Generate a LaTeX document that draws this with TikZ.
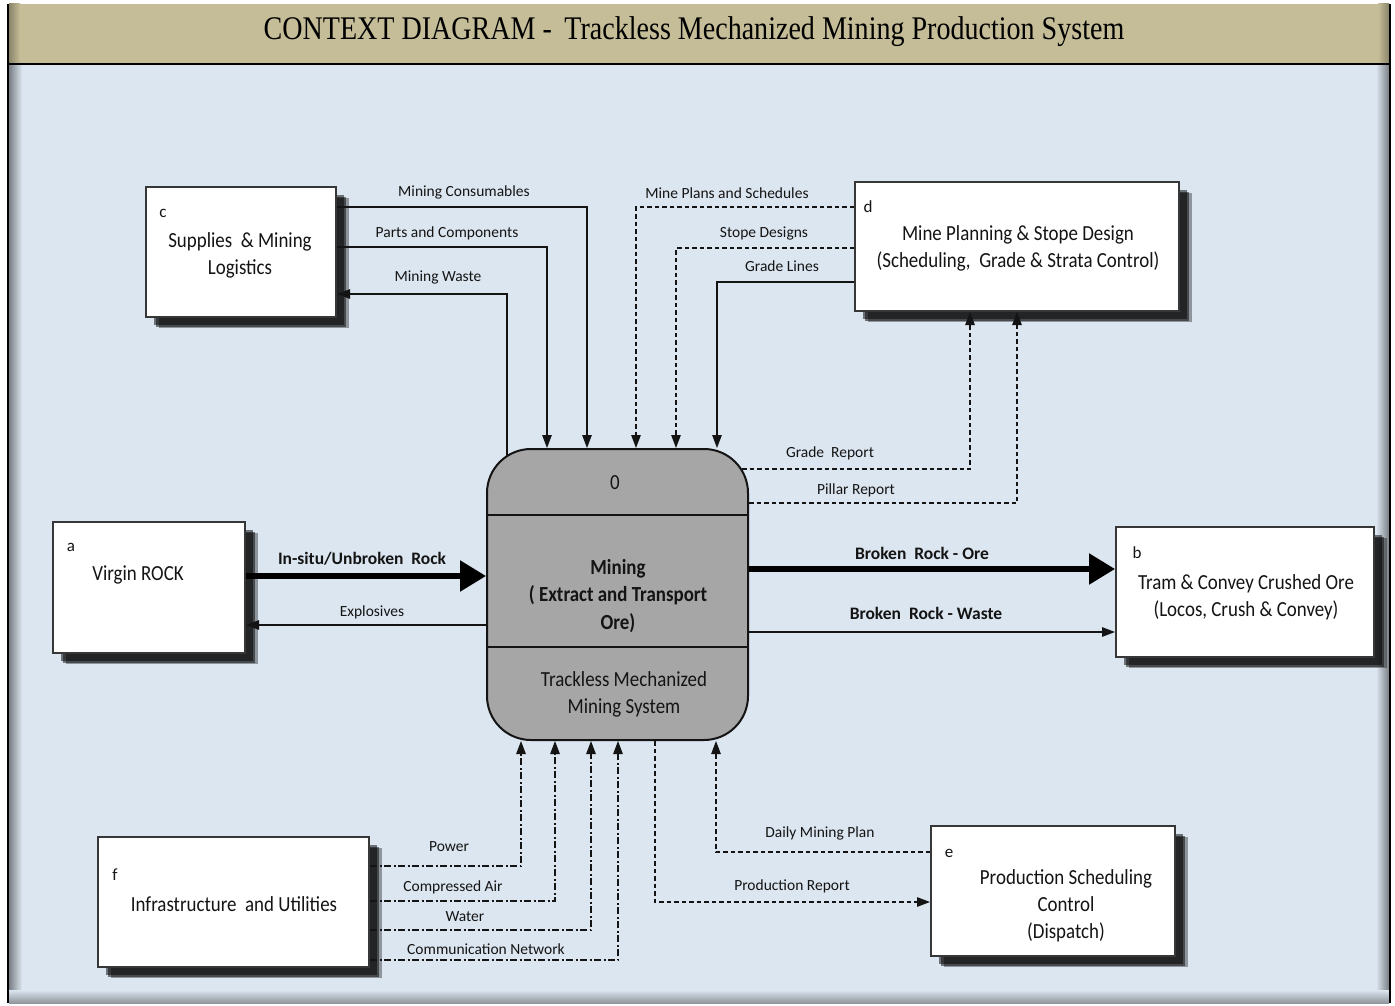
\documentclass[tikz,border=0pt]{standalone}
\usepackage{fontspec}
\setmainfont{Carlito}
\newfontfamily\boxfont[FakeStretch=0.88]{Carlito}
\newfontfamily\titlefont[FakeStretch=0.85]{Liberation Serif}
\usetikzlibrary{arrows.meta,calc,shadows}

\definecolor{panel}{HTML}{DCE6F0}
\definecolor{titlebar}{HTML}{C4BD97}
\definecolor{procgray}{HTML}{A6A6A6}
\definecolor{ink}{HTML}{141414}

\tikzset{
  ext/.style={draw=ink!85, line width=2pt, fill=white, inner sep=0pt,
    general shadow={shadow xshift=8pt, shadow yshift=-8pt, fill=black, opacity=0.5},
    general shadow={shadow xshift=10pt, shadow yshift=-10pt, fill=black, opacity=0.5},
    general shadow={shadow xshift=13pt, shadow yshift=-11pt, fill=black, opacity=0.35}},
  proc/.style={draw=ink, line width=2pt, fill=procgray, inner sep=0pt, rounded corners=44pt},
  lbl/.style={font=\fontsize{15.5}{18}\selectfont, inner sep=0pt, text=ink},
  blbl/.style={font=\bfseries\fontsize{17.5}{20}\selectfont, inner sep=0pt, text=ink},
  boxtxt/.style={font=\boxfont\fontsize{21.5}{27}\selectfont, align=center, inner sep=0pt, text=ink},
  tag/.style={font=\fontsize{17}{20}\selectfont, inner sep=0pt, text=ink},
  flow/.style={draw=ink, line width=1.2pt},
  dashflow/.style={flow, dash pattern=on 4.5pt off 3pt},
  dotflow/.style={flow, dash pattern=on 7pt off 2.5pt on 2pt off 2.5pt},
  heavy/.style={draw=black, line width=5.5pt, -{Triangle[length=26pt,width=30pt]}},
  tipthin/.style={-{Triangle[length=13pt,width=9.5pt]}},
}

\begin{document}
\begin{tikzpicture}[x=1pt,y=-1pt]
\useasboundingbox (0,0) rectangle (1395,1006);
\fill[white] (0,0) rectangle (1395,1006);

% frame: title bar and panel
\fill[panel] (9,64) rectangle (1389,1003);
\shade[left color=black!45!panel, right color=panel] (9,64) rectangle (22,1003);
\shade[left color=panel, right color=black!45!panel] (1376,64) rectangle (1389,1003);
\shade[top color=panel, bottom color=black!35!panel] (9,990) rectangle (1389,1003);
\fill[titlebar] (9,4) rectangle (1389,64);
\shade[left color=black!30!titlebar, right color=titlebar] (9,4) rectangle (20,64);
\shade[left color=titlebar, right color=black!30!titlebar] (1378,4) rectangle (1389,64);
\draw[line width=2.5pt] (8,64) -- (1390,64);
\draw[line width=2pt] (8,4) -- (8,1003);
\draw[line width=2pt] (1390,4) -- (1390,1003);
\node[font=\titlefont\fontsize{33}{36}\selectfont, inner sep=0pt] (title) at (694,32)
  {CONTEXT DIAGRAM -\, Trackless Mechanized Mining Production System};

% external entities
\node[ext, minimum width=190pt, minimum height=130pt] (c) at (241,252) {};
\node[ext, minimum width=324pt, minimum height=129pt] (d) at (1017,246.5) {};
\node[ext, minimum width=192pt, minimum height=131pt] (a) at (149,587.5) {};
\node[ext, minimum width=258pt, minimum height=130pt] (b) at (1245,592) {};
\node[ext, minimum width=271pt, minimum height=130pt] (f) at (233.5,902) {};
\node[ext, minimum width=244pt, minimum height=130pt] (e) at (1053,891) {};

\node[tag] (ctag) at (163,213) {c};
\node[tag] (dtag) at (868,207) {d};
\node[tag] (atag) at (71,547) {a};
\node[tag] (btag) at (1137,553) {b};
\node[tag] (ftag) at (115,875) {f};
\node[tag] (etag) at (949,853) {e};

\node[boxtxt] (ctext) at (240,255) {Supplies \ \& Mining\\Logistics};
\node[boxtxt] (dtext) at (1018,248) {Mine Planning \& Stope Design\\(Scheduling, \ Grade \& Strata Control)};
\node[boxtxt] (atext) at (138,575) {Virgin ROCK};
\node[boxtxt] (btext) at (1246,597) {Tram \& Convey Crushed Ore\\(Locos, Crush \& Convey)};
\node[boxtxt] (ftext) at (234,904) {Infrastructure \ and Utilities};
\node[boxtxt] (etext) at (1066,906) {Production Scheduling\\Control\\(Dispatch)};

% the process
\node[proc, minimum width=261pt, minimum height=291pt] (m) at (617.5,594.5) {};
\draw[ink, line width=1.3pt] (m.west |- 0,515) -- (m.east |- 0,515);
\draw[ink, line width=1.3pt] (m.west |- 0,647) -- (m.east |- 0,647);
\node[boxtxt] (mnum) at (615,483) {0};
\node[boxtxt, font=\boxfont\bfseries\fontsize{21.5}{27.5}\selectfont] (mname) at (618,596)
  {Mining\\( Extract and Transport\\Ore)};
\node[boxtxt] (msys) at (624,694.5) {Trackless Mechanized\\Mining System};

% supplies
\draw[flow, tipthin] (c.east |- 0,207) -| (m.north -| 587,0);
\draw[flow, tipthin] (c.east |- 0,247) -| (m.north -| 547,0);
\coordinate (wasteout) at (507,456);
\draw[flow, tipthin] (wasteout) |- (c.east |- 0,294);
\node[lbl] (lcons) at (464,192) {Mining Consumables};
\node[lbl] (lparts) at (447,233) {Parts and Components};
\node[lbl] (lwaste) at (438,277) {Mining Waste};

% planning
\draw[dashflow, tipthin] (d.west |- 0,207) -| (m.north -| 636,0);
\draw[dashflow, tipthin] (d.west |- 0,248) -| (m.north -| 676,0);
\draw[flow, tipthin] (d.west |- 0,282) -| (m.north -| 717,0);
\coordinate (gradeout) at (742,469);
\draw[dashflow, tipthin] (gradeout) -| (d.south -| 970,0);
\draw[dashflow, tipthin] (m.east |- 0,503) -| (d.south -| 1017,0);
\node[lbl] (lplans) at (727,193) {Mine Plans and Schedules};
\node[lbl] (lstope) at (764,233) {Stope Designs};
\node[lbl] (lgrade) at (782,266) {Grade Lines};
\node[lbl] (lgrep) at (830,453) {Grade \ Report};
\node[lbl] (lpill) at (856,490) {Pillar Report};

% rock in, explosives out
\draw[heavy] (a.east |- 0,576) -- (m.west |- 0,576);
\draw[flow, tipthin] (m.west |- 0,625) -- (a.east |- 0,625);
\node[blbl] (linsitu) at (362,559) {In-situ/Unbroken \ Rock};
\node[lbl] (lexpl) at (372,612) {Explosives};

% broken rock out
\draw[heavy] (m.east |- 0,569) -- (b.west |- 0,569);
\draw[flow, tipthin] (m.east |- 0,632) -- (b.west |- 0,632);
\node[blbl] (lore) at (922,553) {Broken \ Rock - Ore};
\node[blbl] (lwst) at (926,613) {Broken \ Rock - Waste};

% utilities
\draw[dotflow, tipthin] (f.east |- 0,866) -| (m.south -| 521,0);
\draw[dotflow, tipthin] (f.east |- 0,901) -| (m.south -| 555,0);
\draw[dotflow, tipthin] (f.east |- 0,930) -| (m.south -| 591,0);
\draw[dotflow, tipthin] (f.east |- 0,960) -| (m.south -| 618,0);
\node[lbl] (lpow) at (449,847) {Power};
\node[lbl] (lair) at (453,887) {Compressed Air};
\node[lbl] (lwat) at (465,917) {Water};
\node[lbl] (lcom) at (486,949) {Communication Network};

% dispatch
\draw[dashflow, tipthin] (m.south -| 655,0) |- (e.west |- 0,902);
\draw[dashflow, tipthin] (e.west |- 0,852) -| (m.south -| 716,0);
\node[lbl] (ldaily) at (820,833) {Daily Mining Plan};
\node[lbl] (lprod) at (792,886) {Production Report};
\end{tikzpicture}
\end{document}
